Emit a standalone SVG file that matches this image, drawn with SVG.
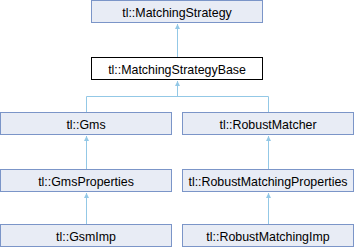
<svg xmlns="http://www.w3.org/2000/svg" width="354" height="248" viewBox="0 0 354 248">
  <style>
    .box { fill: #e8ecf5; stroke: #7b95c8; stroke-width: 1; }
    .cur { fill: #ffffff; stroke: #000000; stroke-width: 1; }
    .lbl { font-family: "Liberation Sans", Arial, sans-serif; font-size: 12.4px; fill: #000000; text-anchor: middle; }
    .edge { fill: none; stroke: #93c8e6; stroke-width: 1; }
  </style>
  <defs>
    <!-- small filled inheritance arrowhead, tip at the path end -->
    <marker id="inherit" markerWidth="6" markerHeight="6" refX="5" refY="3" orient="auto" markerUnits="userSpaceOnUse" viewBox="0 0 6 6" overflow="visible">
      <path d="M0,0.5 L5,3 L0,5.5 Z" fill="#93c8e6"/>
    </marker>
  </defs>

  <g id="edges">
    <path class="edge" d="M177.5,57 V24" marker-end="url(#inherit)"/>
    <path class="edge" d="M86.5,112 V96.5 H268.5 V112"/>
    <path class="edge" d="M177.5,96.5 V81" marker-end="url(#inherit)"/>
    <path class="edge" d="M86.5,169 V136" marker-end="url(#inherit)"/>
    <path class="edge" d="M268.5,169 V136" marker-end="url(#inherit)"/>
    <path class="edge" d="M86.5,224 V193" marker-end="url(#inherit)"/>
    <path class="edge" d="M268.5,224 V193" marker-end="url(#inherit)"/>
  </g>

  <g id="node-matchingstrategy">
    <rect class="box" x="91.5" y="0.5" width="171" height="22"/>
    <text class="lbl" x="177" y="16.5">tl::MatchingStrategy</text>
  </g>
  <g id="node-matchingstrategybase">
    <rect class="cur" x="91.5" y="57.5" width="171" height="22"/>
    <text class="lbl" x="177" y="73.5">tl::MatchingStrategyBase</text>
  </g>
  <g id="node-gms">
    <rect class="box" x="0.5" y="112.5" width="171" height="22"/>
    <text class="lbl" x="86" y="128.5">tl::Gms</text>
  </g>
  <g id="node-robustmatcher">
    <rect class="box" x="182.5" y="112.5" width="171" height="22"/>
    <text class="lbl" x="268" y="128.5">tl::RobustMatcher</text>
  </g>
  <g id="node-gmsproperties">
    <rect class="box" x="0.5" y="169.5" width="171" height="22"/>
    <text class="lbl" x="86" y="185.5">tl::GmsProperties</text>
  </g>
  <g id="node-robustmatchingproperties">
    <rect class="box" x="182.5" y="169.5" width="171" height="22"/>
    <text class="lbl" x="268" y="185.5">tl::RobustMatchingProperties</text>
  </g>
  <g id="node-gsmimp">
    <rect class="box" x="0.5" y="224.5" width="171" height="22"/>
    <text class="lbl" x="86" y="240.5">tl::GsmImp</text>
  </g>
  <g id="node-robustmatchingimp">
    <rect class="box" x="182.5" y="224.5" width="171" height="22"/>
    <text class="lbl" x="268" y="240.5">tl::RobustMatchingImp</text>
  </g>
</svg>
